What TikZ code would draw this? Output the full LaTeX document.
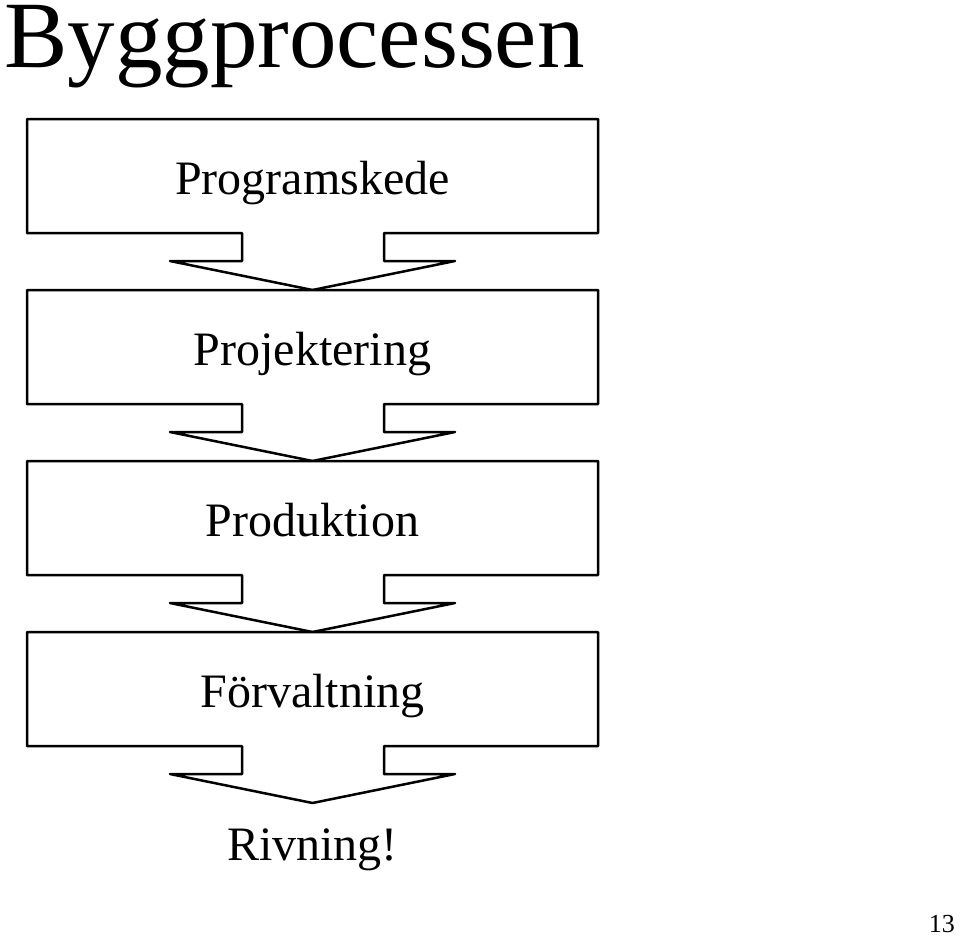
\documentclass[tikz,border=0pt]{standalone}
\usepackage{fontspec}
\setmainfont{Liberation Serif}
\usetikzlibrary{positioning}
\tikzset{
  stagebox/.style   = {draw=black, line width=2.5pt, line join=round, fill=white},
  stagelabel/.style = {anchor=base, inner sep=0pt, font=\fontsize{48}{58}\selectfont},
  titlelabel/.style = {anchor=base west, inner sep=0pt, font=\fontsize{95}{110}\selectfont},
  pagelabel/.style  = {anchor=base east, inner sep=0pt, font=\fontsize{26}{30}\selectfont},
}

\begin{document}
\begin{tikzpicture}[x=1pt, y=-1pt]

% fixed page area
\useasboundingbox (0,0) rectangle (960,937);

% === title ===
\node[titlelabel] (title) at (4,67) {Byggprocessen};

% === stages: box with arrow below ===
\foreach \t/\name/\txt in {119/prog/Programskede, 290/proj/Projektering, 461/prod/Produktion, 632/forv/Förvaltning}{
  \draw[stagebox] (27,\t) -- (598,\t) -- (598,\t+114) -- (384,\t+114) -- (384,\t+142)
    -- (455,\t+142) -- (312.5,\t+171) -- (170,\t+142) -- (242,\t+142) -- (242,\t+114)
    -- (27,\t+114) -- cycle;
  \node[stagelabel] (\name) at (312.5,\t+75) {\txt};
}

% last step, no box
\node[stagelabel] (rivn) at (312.5,860) {Rivning!};

% page number
\node[pagelabel] (pagenr) at (955,932) {13};

\end{tikzpicture}
\end{document}
